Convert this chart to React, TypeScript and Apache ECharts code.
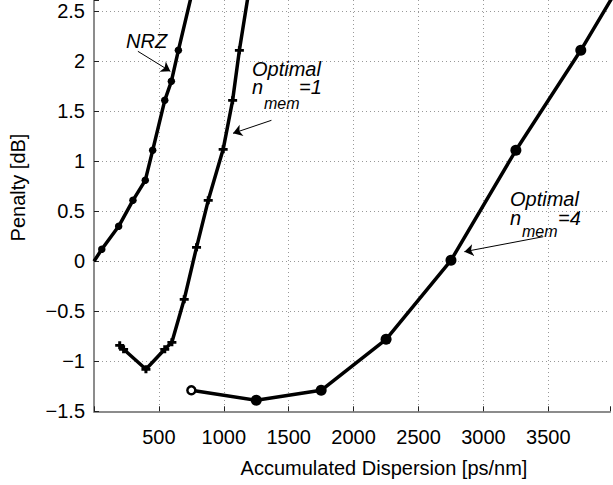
import React, { useEffect, useRef } from 'react';
import * as echarts from 'echarts';

// Accumulated dispersion [ps/nm] and penalty [dB]
const nrzX = [0, 60, 190, 300, 395, 452, 545, 596, 650, 760];
const nrzY = [0, 0.12, 0.35, 0.61, 0.81, 1.11, 1.61, 1.8, 2.11, 2.71];

const mem1X = [198, 228, 400, 545, 600, 695, 790, 880, 995, 1068, 1120, 1200];
const mem1Y = [-0.84, -0.88, -1.08, -0.88, -0.81, -0.38, 0.14, 0.61, 1.12, 1.61, 2.11, 2.76];

const mem4X = [750, 1250, 1750, 2250, 2750, 3250, 3750, 4250];
const mem4Y = [-1.29, -1.39, -1.29, -0.78, 0.01, 1.11, 2.11, 3.2];

const xTicks = [500, 1000, 1500, 2000, 2500, 3000, 3500];
const yTicks = [-1.5, -1, -0.5, 0, 0.5, 1, 1.5, 2, 2.5];

// annotation arrows: [fromX, fromY, toX, toY] in data units
const arrows = [
  [338, 2.1, 588, 1.9],
  [1367, 1.41, 1071, 1.28],
  [3461, 0.246, 2853, 0.096],
];

const FONT = '"Liberation Sans", Arial, Helvetica, sans-serif';
const PLUS = 'path://M0,3h9v3h-9z M3,0h3v9h-3z';

export default function App() {
  const ref = useRef<HTMLDivElement>(null);
  useEffect(() => {
    const chart = echarts.init(ref.current!, null, { renderer: 'svg' });

    const nrzData = nrzX.map((x, i) => {
      const hide = i === 0 || i === nrzX.length - 1;
      return hide ? { value: [x, nrzY[i]], symbol: 'none' } : { value: [x, nrzY[i]] };
    });
    const mem1Data = mem1X.map((x, i) =>
      i === mem1X.length - 1 ? { value: [x, mem1Y[i]], symbol: 'none' } : { value: [x, mem1Y[i]] }
    );
    const mem4Data = mem4X.map((x, i) => {
      if (i === 0)
        return {
          value: [x, mem4Y[i]],
          symbol: 'circle',
          symbolSize: 8,
          itemStyle: { color: '#fff', borderColor: '#000', borderWidth: 2.5 },
        };
      if (i === mem4X.length - 1) return { value: [x, mem4Y[i]], symbol: 'none' };
      return { value: [x, mem4Y[i]] };
    });

    const txt = (text: string, x: number, y: number, size = 20) => ({
      type: 'text',
      x,
      y,
      style: {
        text,
        fontSize: size,
        fontStyle: 'italic',
        fontFamily: FONT,
        fill: '#000',
        align: 'left',
        verticalAlign: 'middle',
      },
    });

    const option: any = {
      animation: false,
      backgroundColor: '#fff',
      grid: { left: 94, top: 0, right: 0, height: 411.3, containLabel: false },
      xAxis: {
        type: 'value',
        min: 0,
        max: 3975,
        interval: 500,
        axisLine: { show: true, onZero: false, lineStyle: { color: '#8c8c8c', width: 2 } },
        axisTick: { show: true, inside: true, length: 5, lineStyle: { color: '#222', width: 1 } },
        axisLabel: {
          margin: 16,
          fontSize: 20,
          fontFamily: FONT,
          color: '#000',
          formatter: (v: number) => (xTicks.includes(v) ? String(v) : ''),
        },
        splitLine: {
          show: true,
          showMinLine: false,
          showMaxLine: false,
          lineStyle: { color: '#999', type: [1, 3], width: 1 },
        },
      },
      yAxis: {
        type: 'value',
        min: -1.5,
        max: 2.613,
        interval: 0.5,
        axisLine: { show: true, onZero: false, lineStyle: { color: '#8c8c8c', width: 2 } },
        axisTick: { show: true, inside: true, length: 5, lineStyle: { color: '#222', width: 1 } },
        axisLabel: {
          margin: 9,
          fontSize: 20,
          fontFamily: FONT,
          color: '#000',
          formatter: (v: number) => {
            const r = Math.round(v * 10) / 10;
            if (!yTicks.includes(r) || Math.abs(r - v) > 1e-6) return '';
            return String(r).replace('-', '\u2212');
          },
        },
        splitLine: {
          show: true,
          showMinLine: false,
          showMaxLine: false,
          lineStyle: { color: '#999', type: [1, 3], width: 1 },
        },
      },
      series: [
        {
          name: 'NRZ',
          type: 'line',
          data: nrzData,
          clip: true,
          symbol: 'circle',
          symbolSize: 7.5,
          lineStyle: { color: '#000', width: 3.5 },
          itemStyle: { color: '#000' },
          markLine: {
            silent: true,
            symbol: ['none', 'arrow'],
            symbolSize: 9,
            label: { show: false },
            lineStyle: { color: '#000', width: 1, type: 'solid' },
            itemStyle: { color: '#000' },
            emphasis: { disabled: true },
            data: arrows.map((a) => [{ coord: [a[0], a[1]] }, { coord: [a[2], a[3]] }]),
          },
        },
        {
          name: 'Optimal nmem=1',
          type: 'line',
          data: mem1Data,
          clip: true,
          symbol: PLUS,
          symbolSize: [9, 8],
          lineStyle: { color: '#000', width: 3.5 },
          itemStyle: { color: '#000' },
        },
        {
          name: 'Optimal nmem=4',
          type: 'line',
          data: mem4Data,
          clip: true,
          symbol: 'circle',
          symbolSize: 11,
          lineStyle: { color: '#000', width: 3.5 },
          itemStyle: { color: '#000' },
        },
      ],
      graphic: [
        {
          type: 'text',
          x: 17.5,
          y: 187.5,
          rotation: Math.PI / 2,
          style: {
            text: 'Penalty [dB]',
            fontSize: 20,
            fontFamily: FONT,
            fill: '#000',
            align: 'center',
            verticalAlign: 'middle',
          },
        },
        {
          type: 'text',
          x: 384,
          y: 468,
          style: {
            text: 'Accumulated Dispersion [ps/nm]',
            fontSize: 20,
            fontFamily: FONT,
            fill: '#000',
            align: 'center',
            verticalAlign: 'middle',
          },
        },
        txt('NRZ', 126, 40.5),
        txt('Optimal', 252, 68.7),
        txt('n', 252, 86.8),
        txt('mem', 264, 103, 16),
        txt('=1', 299, 86.8),
        txt('Optimal', 510, 199),
        txt('n', 510, 217.8),
        txt('mem', 522, 231.5, 16),
        txt('=4', 558, 217.8),
      ],
    };
    chart.setOption(option);
    return () => chart.dispose();
  }, []);
  return (
    <div
      ref={ref}
      style={{ position: 'fixed', left: 0, top: 0, width: 613, height: 485, background: '#fff' }}
    />
  );
}
